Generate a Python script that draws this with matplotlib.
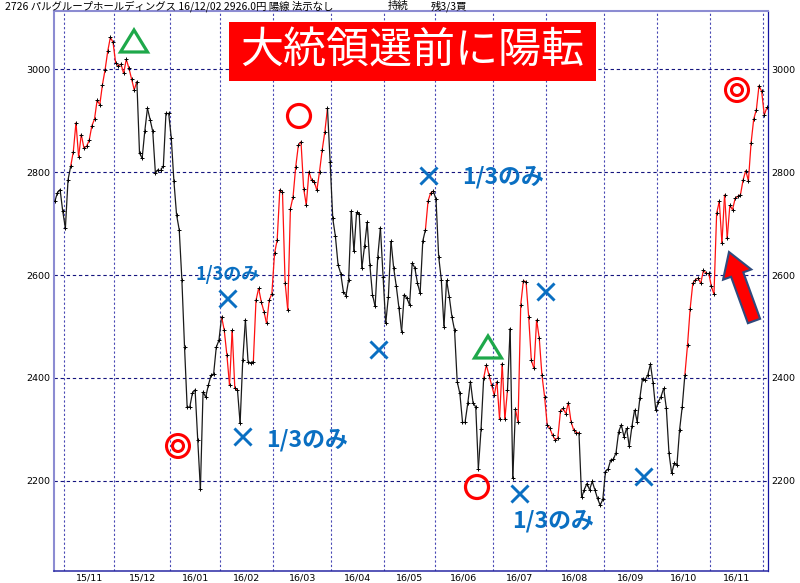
import numpy as np
import matplotlib
matplotlib.use("Agg")
import matplotlib.pyplot as plt
from matplotlib.collections import LineCollection
from matplotlib.patches import Circle, Polygon, Rectangle, FancyArrow
from matplotlib.lines import Line2D
from matplotlib.transforms import Affine2D

JP = ["Noto Sans CJK JP", "DejaVu Sans"]

# ---- data: daily closes per month ----
month_names = ["15/10", "15/11", "15/12", "16/01", "16/02", "16/03", "16/04",
               "16/05", "16/06", "16/07", "16/08", "16/09", "16/10", "16/11", "16/12"]
oct15 = [2743, 2760, 2766, 2724]
nov15 = [2691, 2785, 2811, 2840, 2896, 2830, 2873, 2847, 2850, 2862, 2890, 2903,
         2940, 2931, 2970, 2999, 3035, 3062, 3052]
dec15 = [3012, 3006, 3010, 2992, 3019, 3002, 2981, 2960, 2976, 2837, 2827, 2880,
         2924, 2902, 2879, 2798, 2805, 2805, 2811, 2915, 2915]
jan16 = [2866, 2782, 2717, 2688, 2591, 2461, 2343, 2344, 2371, 2377, 2279, 2184,
         2373, 2363, 2386, 2405, 2408, 2460, 2473]
feb16 = [2519, 2493, 2445, 2386, 2493, 2380, 2377, 2312, 2435, 2513, 2432, 2429,
         2432, 2551, 2574, 2548, 2529, 2506, 2551, 2564]
mar16 = [2642, 2668, 2766, 2762, 2585, 2532, 2729, 2752, 2810, 2852, 2859, 2768,
         2736, 2801, 2784, 2781, 2765, 2801, 2843, 2878, 2924, 2820]
apr16 = [2710, 2675, 2620, 2603, 2568, 2560, 2591, 2724, 2646, 2722, 2718, 2614,
         2656, 2703, 2620, 2562, 2539, 2636, 2692, 2597]
may16 = [2506, 2558, 2666, 2614, 2578, 2536, 2490, 2562, 2555, 2542, 2623, 2614,
         2584, 2565, 2666, 2688, 2744, 2760, 2763]
jun16 = [2747, 2636, 2591, 2500, 2590, 2558, 2519, 2493, 2393, 2370, 2315, 2315,
         2351, 2393, 2351, 2344, 2224, 2300, 2400, 2425, 2406, 2386]
jul16 = [2367, 2393, 2320, 2428, 2320, 2377, 2496, 2205, 2339, 2315, 2542, 2589,
         2587, 2519, 2434, 2419, 2513, 2477, 2406, 2364]
aug16 = [2309, 2302, 2289, 2280, 2283, 2335, 2341, 2331, 2352, 2315, 2299, 2294,
         2293, 2168, 2183, 2195, 2183, 2199, 2183, 2166, 2153, 2164]
sep16 = [2218, 2223, 2241, 2242, 2255, 2296, 2309, 2286, 2302, 2267, 2306, 2338,
         2315, 2361, 2399, 2396, 2406, 2427, 2390, 2338]
oct16 = [2354, 2364, 2380, 2341, 2254, 2215, 2234, 2231, 2299, 2344, 2406, 2464,
         2535, 2584, 2591, 2594, 2584, 2609, 2604, 2604]
nov16 = [2578, 2563, 2720, 2743, 2662, 2756, 2672, 2736, 2727, 2749, 2753, 2756,
         2785, 2803, 2783, 2856, 2903, 2921, 2968, 2957]
dec16 = [2911, 2926]

monthly = [oct15, nov15, dec15, jan16, feb16, mar16, apr16, may16, jun16,
           jul16, aug16, sep16, oct16, nov16, dec16]
# holding periods (drawn red), as trading-day index ranges
held_spans = [(6, 31), (63, 69), (75, 103), (140, 143), (162, 171), (174, 198), (238, 269)]
y_ticks = [2200, 2400, 2600, 2800, 3000]

title_main = "2726 パルグループホールディングス 16/12/02 2926.0円 陽線 法示なし"
title_state = "持続"
title_rest = "残3/3買"
headline = "大統領選前に陽転"
partial = "1/3のみ"

closes = np.concatenate([np.array(m, float) for m in monthly])
idx = np.arange(len(closes))
counts = np.array([len(m) for m in monthly])
starts = np.concatenate([[0], np.cumsum(counts)[:-1]])
boundaries = starts[1:] - 0.5
centers = starts + (counts - 1) / 2.0

fig = plt.figure(figsize=(8, 5.83), dpi=100)
W, H = 800, 583
ax = fig.add_axes([54 / W, 1 - 571 / H, (768 - 54) / W, (571 - 11) / H])
ax.set_xlim(-0.3, 269.4)
ax.set_ylim(2025, 3113)

# grid
for b in boundaries:
    ax.axvline(b, color="#4848b4", lw=0.8, ls=(0, (2, 2)), zorder=1)
for yv in y_ticks:
    ax.axhline(yv, color="#14147e", lw=0.8, ls=(0, (3, 2.5)), zorder=1)

# line segments
pts = np.column_stack([idx, closes])
segs = np.stack([pts[:-1], pts[1:]], axis=1)
cols = []
for i in range(len(closes) - 1):
    red = any(s <= i and i + 1 <= e for s, e in held_spans)
    cols.append("#ff1010" if red else "#1a1a1a")
ax.add_collection(LineCollection(segs, colors=cols, linewidths=0.9, zorder=3))
ax.plot(idx, closes, ls="none", marker="+", ms=3, mew=0.7, color="black", zorder=4)

# axes styling
ax.set_yticks(y_ticks)
ax.set_yticklabels([str(v) for v in y_ticks])
ax.set_xticks(centers[1:-1])
ax.set_xticklabels(month_names[1:-1])
ax.tick_params(axis="y", length=0, labelsize=6.8, labelleft=True, labelright=True, pad=2.5)
ax.tick_params(axis="x", length=0, labelsize=6.8, pad=1.5)
ax.spines["left"].set_color("#8c8cd2")
ax.spines["left"].set_linewidth(1.5)
ax.spines["top"].set_color("#8c8cd2")
ax.spines["top"].set_linewidth(1.5)
ax.spines["right"].set_color("#1414a0")
ax.spines["right"].set_linewidth(0.9)
ax.spines["bottom"].set_color("#2828a4")
ax.spines["bottom"].set_linewidth(1.1)

# pixel transform for annotations
px = Affine2D().scale(1 / 100, -1 / 100).translate(0, H / 100) + fig.dpi_scale_trans

# header text
fig.text(5, 6, title_main, transform=px, ha="left", va="center", fontsize=7.5, family=JP)
fig.text(388, 6, title_state, transform=px, ha="left", va="center", fontsize=7.5, family=JP)
fig.text(431, 6, title_rest, transform=px, ha="left", va="center", fontsize=7.5, family=JP)

# headline box
ax.add_patch(Rectangle((229, 22), 367, 59, transform=px, facecolor="#ff0000",
                       edgecolor="none", zorder=6, clip_on=False))
ax.text(412, 52, headline, transform=px, ha="center", va="center", fontsize=31,
        color="white", family=JP, zorder=7)

# triangles
green = "#1ea84a"
for cx, cy in [(134, 41), (488, 347)]:
    ax.add_patch(Polygon([(cx, cy - 11), (cx - 13.5, cy + 11), (cx + 13.5, cy + 11)],
                         closed=True, fill=False, edgecolor=green, lw=2.3,
                         transform=px, zorder=6, clip_on=False, joinstyle="miter"))

# circles
for cx, cy in [(299, 116), (477, 487)]:
    ax.add_patch(Circle((cx, cy), 11.5, fill=False, edgecolor="#ff0000", lw=2.3,
                        transform=px, zorder=6, clip_on=False))
for cx, cy in [(178, 446), (737, 90)]:
    ax.add_patch(Circle((cx, cy), 11.5, fill=False, edgecolor="#ff0000", lw=2.2,
                        transform=px, zorder=6, clip_on=False))
    ax.add_patch(Circle((cx, cy), 5.5, fill=False, edgecolor="#ff0000", lw=2.2,
                        transform=px, zorder=6, clip_on=False))

# crosses
blue = "#0a6fc2"
for cx, cy in [(228, 299), (243, 437), (379, 350), (429, 176), (520, 494), (546, 292), (644, 477)]:
    for dx in (-7.5, 7.5):
        ax.add_line(Line2D([cx - dx, cx + dx], [cy - 7.5, cy + 7.5], color=blue, lw=2.1,
                           transform=px, zorder=6, clip_on=False))

# "1/3のみ" labels
ax.text(228, 274, partial, transform=px, ha="center", va="center", fontsize=13,
        color=blue, family=JP, weight="bold", zorder=6)
for cx, cy in [(307, 440), (503, 177), (553, 521)]:
    ax.text(cx, cy, partial, transform=px, ha="center", va="center", fontsize=16.5,
            color=blue, family=JP, weight="bold", zorder=6)

# arrow
ax.add_patch(FancyArrow(754, 321, -25, -69, width=13, head_width=30, head_length=24,
                        length_includes_head=True, facecolor="#ff0000",
                        edgecolor="#2e4a7e", lw=1.5, transform=px, zorder=6,
                        clip_on=False))

fig.savefig("out.png", dpi=100, facecolor="white")
